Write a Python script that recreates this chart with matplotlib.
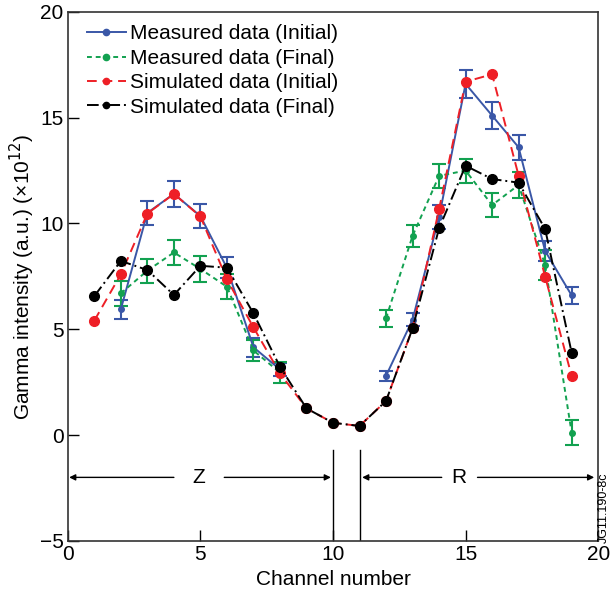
#!/usr/bin/env python3
# Gamma intensity per channel: measured vs simulated, initial vs final
import numpy as np
import matplotlib.pyplot as plt

plt.rcParams['font.family'] = ['Liberation Sans', 'DejaVu Sans']

nan = np.nan
channels = np.arange(1, 20)

# Measured data (channels 1, 9, 10, 11 not measured)
meas_init = [nan, 5.95, 10.5, 11.4, 10.35, 7.9, 4.15, 3.1, nan, nan, nan,
             2.8, 5.45, 10.3, 16.6, 15.1, 13.6, 8.7, 6.6]
meas_init_err = [nan, 0.45, 0.58, 0.6, 0.57, 0.5, 0.45, 0.3, nan, nan, nan,
                 0.24, 0.3, 0.55, 0.65, 0.63, 0.6, 0.47, 0.42]
meas_final = [nan, 6.7, 7.77, 8.63, 7.85, 7.01, 4.0, 2.95, nan, nan, nan,
              5.52, 9.41, 12.25, 12.5, 10.87, 11.82, 8.04, 0.11]
meas_final_err = [nan, 0.58, 0.57, 0.6, 0.6, 0.58, 0.5, 0.5, nan, nan, nan,
                  0.39, 0.5, 0.57, 0.57, 0.55, 0.6, 0.7, 0.58]

# Simulated data
sim_init = [5.41, 7.6, 10.47, 11.4, 10.33, 7.36, 5.09, 2.92, 1.26, 0.58, 0.43,
            1.61, 5.04, 10.67, 16.7, 17.05, 12.26, 7.49, 2.79]
sim_final = [6.57, 8.23, 7.8, 6.62, 8.0, 7.91, 5.75, 3.23, 1.26, 0.58, 0.43,
             1.61, 5.04, 9.77, 12.73, 12.1, 11.93, 9.74, 3.89]

blue = '#3a57a7'
green = '#12a150'
red = '#ee1f26'

fig = plt.figure(figsize=(6.11, 5.95), dpi=100)
ax = fig.add_axes([0.111, 0.091, 0.868, 0.889])

# error bars
ax.errorbar(channels, meas_init, yerr=meas_init_err, fmt='none',
            ecolor=blue, elinewidth=1.5, capsize=5, capthick=1.5, zorder=2)
ax.errorbar(channels, meas_final, yerr=meas_final_err, fmt='none',
            ecolor=green, elinewidth=1.5, capsize=5, capthick=1.5, zorder=2)

l1, = ax.plot(channels, meas_init, color=blue, linestyle='-', lw=1.4,
              marker='o', ms=4, label='Measured data (Initial)', zorder=3)
l2, = ax.plot(channels, meas_final, color=green, linestyle=(0, (2.5, 2)), lw=1.4,
              marker='o', ms=4, label='Measured data (Final)', zorder=3)
l3, = ax.plot(channels, sim_init, color=red, linestyle=(0, (5, 3)), lw=1.4,
              marker='o', ms=7, label='Simulated data (Initial)', zorder=4)
l4, = ax.plot(channels, sim_final, color='k', linestyle=(0, (6, 2, 1, 2)), lw=1.4,
              marker='o', ms=7, label='Simulated data (Final)', zorder=5)

# Z / R regions
ax.plot([10, 10], [-5, -0.7], color='k', lw=1)
ax.plot([11, 11], [-5, -0.7], color='k', lw=1)
arrow = dict(arrowstyle='-|>', color='k', lw=1, mutation_scale=9,
             shrinkA=0, shrinkB=0)
ax.annotate('', xy=(0.05, -2), xytext=(4.0, -2), arrowprops=arrow)
ax.annotate('', xy=(9.92, -2), xytext=(5.9, -2), arrowprops=arrow)
ax.text(4.95, -2, 'Z', fontsize=15, ha='center', va='center')
ax.annotate('', xy=(11.1, -2), xytext=(14.1, -2), arrowprops=arrow)
ax.annotate('', xy=(19.85, -2), xytext=(15.45, -2), arrowprops=arrow)
ax.text(14.75, -2, 'R', fontsize=15, ha='center', va='center')

ax.set_xlim(0, 20)
ax.set_ylim(-5, 20)
ax.set_xticks([0, 5, 10, 15, 20])
ax.set_yticks([-5, 0, 5, 10, 15, 20])
ax.tick_params(direction='in', length=8, width=1, labelsize=15)
ax.tick_params(axis='x', pad=3)
ax.tick_params(axis='y', pad=3)
for s in ax.spines.values():
    s.set_linewidth(1.2)
    s.set_color('#333333')

ax.set_xlabel('Channel number', fontsize=15, labelpad=4)
ax.set_ylabel('Gamma intensity (a.u.) (\u00d710$^{12}$)', fontsize=15, labelpad=3)
ax.yaxis.set_label_coords(-0.059, 0.5)

leg = ax.legend(handles=[l1, l2, l3, l4], loc='upper left', frameon=False,
                fontsize=15, numpoints=1, handlelength=1.9, handletextpad=0.2,
                labelspacing=0.26, borderaxespad=0.2, bbox_to_anchor=(0.012, 1.0))
for h in leg.legend_handles:
    h.set_markersize(4.5)

fig.text(0.988, 0.088, 'JG11.190-8c', rotation=90, fontsize=9,
         ha='center', va='bottom')

fig.savefig('out.png', dpi=100)
